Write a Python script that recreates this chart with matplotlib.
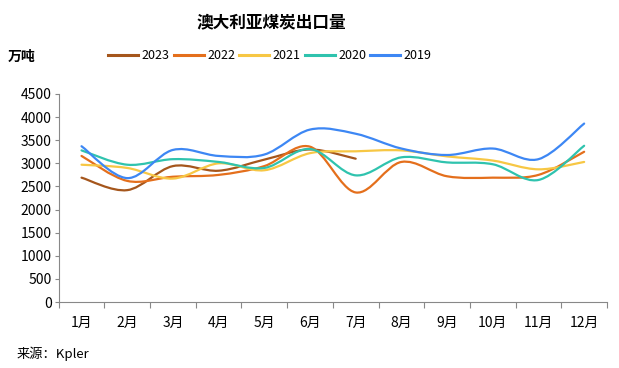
import matplotlib
matplotlib.use("Agg")
import matplotlib.pyplot as plt
import numpy as np
from matplotlib.path import Path
from matplotlib.patches import PathPatch
from matplotlib.lines import Line2D

plt.rcParams['font.family'] = ['Noto Sans CJK SC', 'DejaVu Sans']

months = ["1月", "2月", "3月", "4月", "5月", "6月", "7月", "8月", "9月", "10月", "11月", "12月"]
years = ["2023", "2022", "2021", "2020", "2019"]

v2023 = [2690, 2420, 2940, 2840, 3080, 3300, 3100]
v2022 = [3160, 2620, 2710, 2750, 2940, 3360, 2370, 3030, 2720, 2690, 2750, 3250]
v2021 = [2970, 2900, 2670, 3000, 2850, 3220, 3260, 3280, 3150, 3060, 2870, 3030]
v2020 = [3280, 2970, 3090, 3030, 2900, 3310, 2740, 3130, 3020, 2980, 2640, 3380]
v2019 = [3370, 2680, 3290, 3160, 3190, 3730, 3640, 3320, 3180, 3320, 3090, 3860]

colors = ["#A5561C", "#E46F1C", "#F7C744", "#2FC3AE", "#3D87F4"]
series = [v2023, v2022, v2021, v2020, v2019]


def smooth_path(xs, ys):
    # excel-like smoothed line: cubic bezier with catmull-rom control points
    pts = np.column_stack([xs, ys]).astype(float)
    verts = [pts[0]]
    codes = [Path.MOVETO]
    n = len(pts)
    for i in range(n - 1):
        p0 = pts[i - 1] if i > 0 else pts[i]
        p1 = pts[i]
        p2 = pts[i + 1]
        p3 = pts[i + 2] if i + 2 < n else pts[i + 1]
        c1 = p1 + (p2 - p0) / 6.0
        c2 = p2 - (p3 - p1) / 6.0
        verts += [c1, c2, p2]
        codes += [Path.CURVE4] * 3
    return Path(verts, codes)


fig = plt.figure(figsize=(6.19, 3.68), dpi=100)
ax = fig.add_axes([0.0948, 0.1793, 0.8858, 0.5653])

handles = []
for ys, c, lab in zip(series, colors, years):
    xs = np.arange(1, len(ys) + 1)
    ax.add_patch(PathPatch(smooth_path(xs, ys), facecolor="none", edgecolor=c, lw=1.6, capstyle="round"))
    handles.append(Line2D([0], [0], color=c, lw=2.2))

ax.set_xlim(0.5, 12.5)
ax.set_ylim(0, 4500)
ax.set_yticks(np.arange(0, 4501, 500))
ax.set_xticks(np.arange(0.5, 12.6, 1))
ax.set_xticklabels([])
ax.set_xticks(np.arange(1, 13), minor=True)
ax.set_xticklabels(months, minor=True, fontsize=10)
ax.tick_params(axis="x", which="major", length=4, color="#888888")
ax.tick_params(axis="x", which="minor", length=0, pad=10)
ax.tick_params(axis="y", length=3, color="#888888", labelsize=10, pad=2)
for s in ["top", "right"]:
    ax.spines[s].set_visible(False)
for s in ["left", "bottom"]:
    ax.spines[s].set_color("#888888")

fig.text(0.438, 0.94, "澳大利亚煤炭出口量", ha="center", va="center", fontsize=12, fontweight="bold")
fig.text(0.013, 0.845, "万吨", ha="left", va="center", fontsize=10, fontweight="bold")
fig.legend(handles, years, loc="center", bbox_to_anchor=(0.436, 0.848), ncol=5, frameon=False,
           fontsize=9, handlelength=2.4, handletextpad=0.25, columnspacing=0.35)
fig.text(0.027, 0.04, "来源：Kpler", ha="left", va="center", fontsize=9.5)

fig.savefig("out.png", dpi=100)
